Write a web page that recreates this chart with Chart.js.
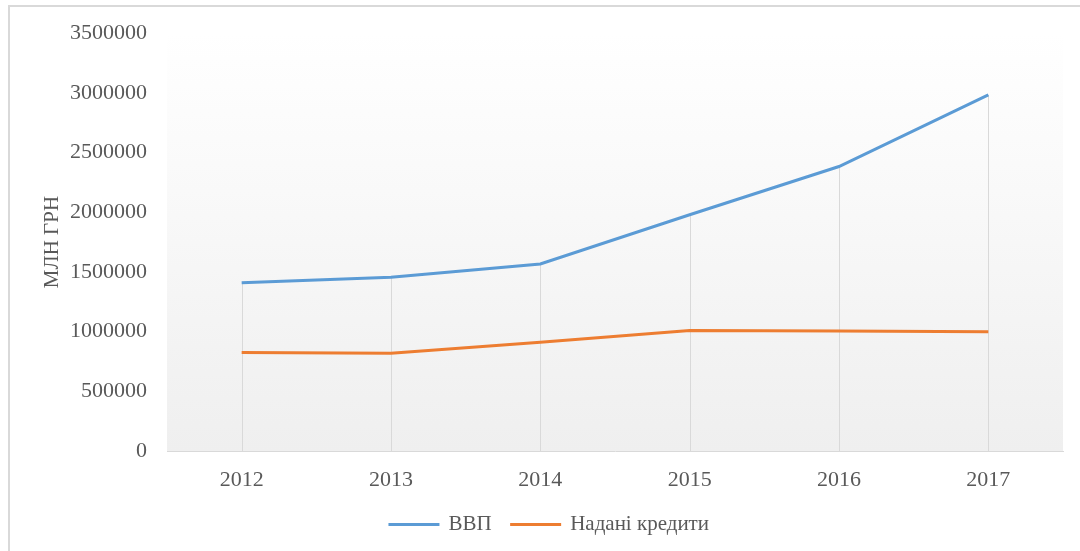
<!DOCTYPE html>
<html>
<head>
<meta charset="utf-8">
<script src="https://cdn.jsdelivr.net/npm/chart.js@4.4.1/dist/chart.umd.min.js"></script>
<style>
    html, body { margin: 0; padding: 0; background: #fff; overflow: hidden; }
    #wrap { position: relative; width: 1080px; height: 551px; }
    #frame {
        position: absolute; left: 8px; top: 5px; right: -10px; bottom: -10px;
        border-top: 2px solid #d9d9d9; border-left: 2px solid #d9d9d9;
        pointer-events: none;
    }
    canvas { position: absolute; left: 0; top: 0; }
</style>
</head>
<body>
<div id="wrap">
    <canvas id="gdpChart" width="1080" height="551"></canvas>
    <div id="frame"></div>
</div>
<script>
    // Years and series (млн грн)
    const years = ['2012', '2013', '2014', '2015', '2016', '2017'];
    const gdp = [1408889, 1454931, 1566728, 1979458, 2383182, 2982920];
    const credits = [825000, 818000, 912000, 1010000, 1006000, 998000];
    const yTicks = [0, 500000, 1000000, 1500000, 2000000, 2500000, 3000000, 3500000];

    const textColor = '#595959';
    const fontFamily = '"Liberation Serif", "Times New Roman", serif';

    // Soft vertical gradient behind the plot area
    const plotBackground = {
        id: 'plotBackground',
        beforeDraw(chart) {
            const { ctx, chartArea: a } = chart;
            const g = ctx.createLinearGradient(0, a.top, 0, a.bottom);
            g.addColorStop(0, '#ffffff');
            g.addColorStop(1, '#efefef');
            ctx.save();
            ctx.fillStyle = g;
            ctx.fillRect(a.left, a.top, a.right - a.left, a.bottom - a.top);
            ctx.restore();
        }
    };

    // Drop lines: from the highest point of each year down to the axis
    const dropLines = {
        id: 'dropLines',
        beforeDatasetsDraw(chart) {
            const { ctx, chartArea: a, scales } = chart;
            ctx.save();
            ctx.strokeStyle = '#d9d9d9';
            ctx.lineWidth = 1;
            years.forEach((_, i) => {
                const top = Math.max(...chart.data.datasets.map(d => d.data[i]));
                const x = Math.round(scales.x.getPixelForValue(i)) + 0.5;
                ctx.beginPath();
                ctx.moveTo(x, scales.y.getPixelForValue(top));
                ctx.lineTo(x, a.bottom);
                ctx.stroke();
            });
            ctx.restore();
        }
    };

    const ctx = document.getElementById('gdpChart').getContext('2d');
    new Chart(ctx, {
        type: 'line',
        data: {
            labels: years,
            datasets: [{
                label: 'ВВП',
                data: gdp,
                borderColor: '#5b9bd5',
                backgroundColor: '#5b9bd5',
                borderWidth: 3,
                pointRadius: 0,
                tension: 0
            },
            {
                label: 'Надані кредити',
                data: credits,
                borderColor: '#ed7d31',
                backgroundColor: '#ed7d31',
                borderWidth: 3,
                pointRadius: 0,
                tension: 0
            }]
        },
        options: {
            responsive: false,
            animation: false,
            layout: {
                padding: { left: 36, top: 33, right: 17, bottom: 6 }
            },
            plugins: {
                legend: {
                    position: 'bottom',
                    labels: {
                        color: textColor,
                        font: { family: fontFamily, size: 21 },
                        boxWidth: 48,
                        boxHeight: 0.1,
                        padding: 20
                    }
                },
                tooltip: { enabled: false }
            },
            scales: {
                x: {
                    offset: true,
                    afterFit(scale) { scale.height = 43; },
                    grid: { display: false, drawTicks: false },
                    border: { display: true, color: '#d9d9d9', width: 1 },
                    ticks: {
                        color: textColor,
                        font: { family: fontFamily, size: 22 },
                        padding: 16,
                        maxRotation: 0
                    }
                },
                y: {
                    min: 0,
                    max: 3500000,
                    afterFit(scale) { scale.width = 131; },
                    afterBuildTicks(scale) {
                        scale.ticks = yTicks.map(v => ({ value: v }));
                    },
                    grid: { display: false, drawTicks: false },
                    border: { display: false },
                    ticks: {
                        color: textColor,
                        font: { family: fontFamily, size: 22 },
                        padding: 20,
                        callback: v => String(v)
                    },
                    title: {
                        display: true,
                        text: 'МЛН ГРН',
                        color: textColor,
                        font: { family: fontFamily, size: 21 }
                    }
                }
            }
        },
        plugins: [plotBackground, dropLines]
    });
</script>
</body>
</html>
